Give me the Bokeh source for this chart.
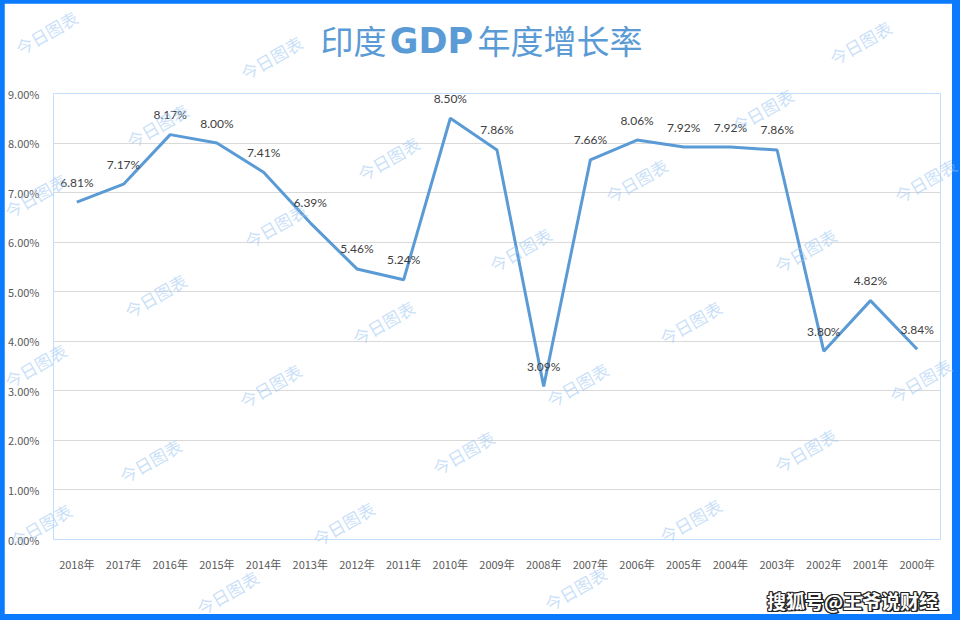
from bokeh.plotting import figure
from bokeh.models import ColumnDataSource, NumeralTickFormatter, FixedTicker, Range1d
from bokeh.layouts import column
from bokeh.embed import file_html
from bokeh.resources import INLINE
from bokeh.core.properties import value

# ---- data ----
years = ["2018年", "2017年", "2016年", "2015年", "2014年", "2013年", "2012年",
         "2011年", "2010年", "2009年", "2008年", "2007年", "2006年", "2005年",
         "2004年", "2003年", "2002年", "2001年", "2000年"]
growth_pct = [6.81, 7.17, 8.17, 8.00, 7.41, 6.39, 5.46, 5.24, 8.50, 7.86,
              3.09, 7.66, 8.06, 7.92, 7.92, 7.86, 3.80, 4.82, 3.84]
y_ticks_pct = [0, 1, 2, 3, 4, 5, 6, 7, 8, 9]
title_parts = ["印度", "GDP", "年度增长率"]
watermark_text = "今日图表"
credit_text = "搜狐号@王爷说财经"

# watermark centres (page pixels)
wm_x = [46, 271, 860, 157, 388, 636, 762, 925, 35, 275, 520, 805, 155, 383,
        690, 35, 270, 577, 920, 150, 463, 805, 40, 343, 690, 227, 575]
wm_y = [32, 57, 42, 125, 158, 180, 110, 180, 195, 225, 249, 250, 295, 322,
        322, 365, 385, 384, 380, 460, 452, 450, 525, 523, 520, 592, 588]

src = ColumnDataSource(dict(
    year=years,
    g=[v / 100 for v in growth_pct],
    lab=[f"{v:.2f}%" for v in growth_pct],
))

FW, FH = 948, 611
p = figure(width=FW, height=FH, x_range=years, y_range=Range1d(0, 0.09),
           output_backend="svg", toolbar_location=None, frame_align=False,
           min_border_left=48, min_border_right=12, min_border_top=90,
           min_border_bottom=75)
p.background_fill_color = "white"
p.border_fill_color = "white"
p.outline_line_color = None

p.xgrid.grid_line_color = None
p.ygrid.grid_line_color = "#d9d9d9"
p.ygrid.grid_line_width = 1
p.yaxis.ticker = FixedTicker(ticks=[t / 100 for t in y_ticks_pct])
p.yaxis.formatter = NumeralTickFormatter(format="0.00%")
for ax in (p.xaxis[0], p.yaxis[0]):
    ax.axis_line_color = None
    ax.major_tick_line_color = None
    ax.minor_tick_line_color = None
    ax.major_label_text_color = "#595959"
    ax.major_label_text_font = "Noto Sans CJK SC"
    ax.major_label_text_font_size = "11px"
p.yaxis.major_label_standoff = 8
p.xaxis.major_label_standoff = 10

p.line("year", "g", source=src, line_color="#5B9BD5", line_width=3)
p.text("year", "g", text="lab", source=src, y_offset=-20,
       text_align="center", text_baseline="middle",
       text_font=value("Lato"), text_font_size="12px", text_color="#404040")

# ---- overlay for title, watermarks and credit (page pixel coordinates) ----
ov = figure(width=960, height=620, x_range=Range1d(0, 960), y_range=Range1d(620, 0),
            x_axis_type=None, y_axis_type=None, frame_align=False,
            output_backend="svg", toolbar_location=None,
            min_border=0, min_border_left=0, min_border_right=0,
            min_border_top=0, min_border_bottom=0,
            styles={"position": "absolute", "left": "0px", "top": "0px",
                    "pointer-events": "none"})
ov.grid.visible = False
ov.outline_line_color = None
ov.background_fill_alpha = 0
ov.border_fill_alpha = 0

# title
ov.text([386], [39], text=[title_parts[0]], text_align="right", text_baseline="middle",
        text_font=value("Noto Sans CJK SC"), text_font_size="33px", text_color="#5B9BD5")
ov.text([431], [40], text=[title_parts[1]], text_align="center", text_baseline="middle",
        text_font=value("DejaVu Sans"), text_font_size="35px", text_font_style="bold",
        text_color="#5B9BD5")
ov.text([477], [39], text=[title_parts[2]], text_align="left", text_baseline="middle",
        text_font=value("Noto Sans CJK SC"), text_font_size="33px", text_color="#5B9BD5")

# watermarks
ov.text(wm_x, wm_y, text=[watermark_text] * len(wm_x), angle=30, angle_units="deg",
        text_align="center", text_baseline="middle",
        text_font=value("Noto Sans CJK SC"), text_font_size="17px",
        text_color="#9cc6f2", text_alpha=0.55)

# credit with dark outline
cx, cy = 852, 600
for dx, dy in [(-1, -1), (-1, 0), (-1, 1), (0, -1), (0, 1), (1, -1), (1, 0), (1, 1), (2, 1)]:
    ov.text([cx], [cy], text=[credit_text], x_offset=dx, y_offset=dy,
            text_align="center", text_baseline="middle",
            text_font=value("Noto Sans CJK SC"), text_font_size="19px",
            text_font_style="bold", text_color="#222222")
ov.text([cx], [cy], text=[credit_text], text_align="center", text_baseline="middle",
        text_font=value("Noto Sans CJK SC"), text_font_size="19px",
        text_font_style="bold", text_color="white")

lay = column(p, ov, styles={"background-color": "#0a7aff",
                            "padding": "3px 8px 6px 4px",
                            "position": "relative"})

open("out.html", "w").write(file_html(lay, INLINE))
